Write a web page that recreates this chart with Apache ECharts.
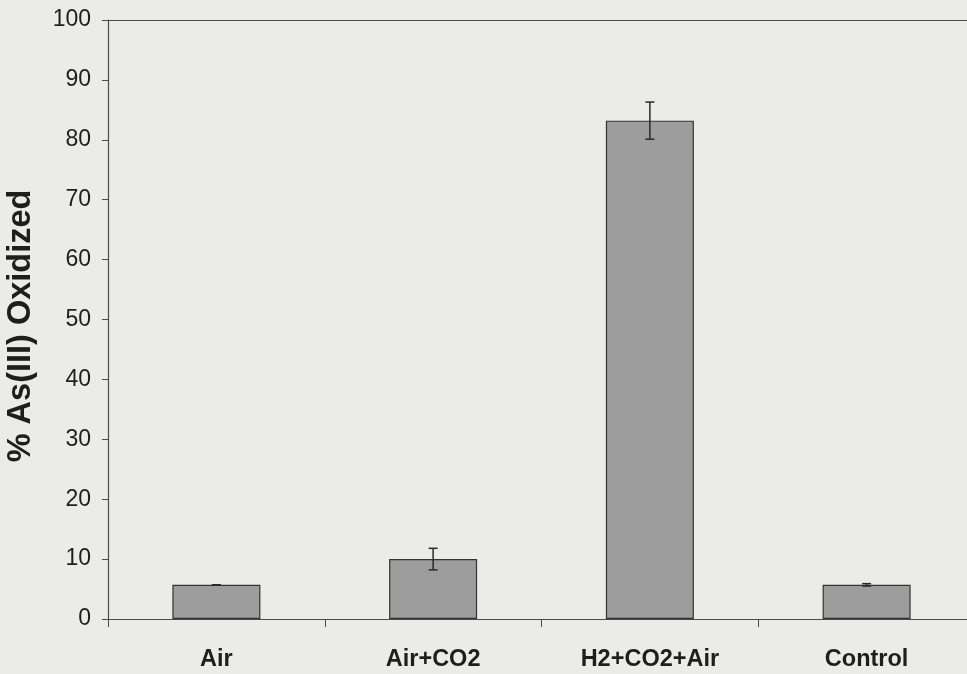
<!DOCTYPE html>
<html>
<head>
<meta charset="utf-8">
<script src="https://cdn.jsdelivr.net/npm/echarts@6/dist/echarts.min.js"></script>
<style>
  html, body { margin: 0; padding: 0; background: #ebebea; }
  #chart { width: 967px; height: 674px; }
</style>
</head>
<body>
<div id="chart"></div>
<script>
// Percentage of As(III) oxidized under each incubation condition
const categories = ['Air', 'Air+CO2', 'H2+CO2+Air', 'Control'];
const oxidized = [5.7, 10.0, 83.2, 5.7];
const errLow = [5.7, 8.2, 80.1, 5.5];
const errHigh = [5.7, 11.8, 86.3, 5.9];
const yTicks = [0, 10, 20, 30, 40, 50, 60, 70, 80, 90, 100];

const font = 'Liberation Sans, Arial, sans-serif';
const ink = '#1e1e1e';
const axisGray = '#4a4a4a';

const chart = echarts.init(document.getElementById('chart'));

// whiskers: vertical stroke with short horizontal caps
function renderErr(params, api) {
  const i = api.value(0);
  const lo = api.coord([i, api.value(1)]);
  const hi = api.coord([i, api.value(2)]);
  const cap = 4.5;
  const style = { stroke: '#2a2a2a', lineWidth: 1.5 };
  return {
    type: 'group',
    children: [
      { type: 'line', shape: { x1: hi[0], y1: hi[1], x2: lo[0], y2: lo[1] }, style },
      { type: 'line', shape: { x1: hi[0] - cap, y1: hi[1], x2: hi[0] + cap, y2: hi[1] }, style },
      { type: 'line', shape: { x1: lo[0] - cap, y1: lo[1], x2: lo[0] + cap, y2: lo[1] }, style }
    ]
  };
}

chart.setOption({
  backgroundColor: '#ebebea',
  animation: false,
  // the plot area runs a little past the right edge of the canvas
  grid: {
    left: 108, top: 20, right: -8, bottom: 55,
    containLabel: false,
    outerBoundsMode: 'none'
  },
  xAxis: [
    {
      type: 'category',
      data: categories,
      position: 'bottom',
      axisLine: { show: true, lineStyle: { color: axisGray, width: 1.2 } },
      axisTick: { show: true, alignWithLabel: false, length: 8, lineStyle: { color: axisGray } },
      axisLabel: {
        margin: 29,
        color: ink,
        fontFamily: font,
        fontWeight: 'bold',
        fontSize: 23.5
      }
    },
    {
      type: 'category',
      data: categories,
      position: 'top',
      axisLine: { show: true, lineStyle: { color: axisGray, width: 1.2 } },
      axisTick: { show: false },
      axisLabel: { show: false }
    }
  ],
  yAxis: {
    type: 'value',
    min: yTicks[0],
    max: yTicks[yTicks.length - 1],
    interval: yTicks[1] - yTicks[0],
    name: '% As(III) Oxidized',
    nameLocation: 'middle',
    nameGap: 70,
    nameTextStyle: {
      color: ink,
      fontFamily: font,
      fontWeight: 'bold',
      fontSize: 32.5,
      padding: [0, 0, 0, -13]
    },
    axisLine: { show: true, lineStyle: { color: axisGray, width: 1.2 } },
    axisTick: { show: true, length: 6, lineStyle: { color: axisGray } },
    splitLine: { show: false },
    axisLabel: {
      margin: 17,
      color: ink,
      fontFamily: font,
      fontSize: 23
    }
  },
  series: [
    {
      type: 'bar',
      data: oxidized,
      barWidth: 88,
      itemStyle: { color: '#9d9d9d', borderColor: '#333333', borderWidth: 1.2 }
    },
    {
      type: 'custom',
      renderItem: renderErr,
      encode: { x: 0, y: [1, 2] },
      data: categories.map((c, i) => [i, errLow[i], errHigh[i]]),
      z: 5
    }
  ]
});
</script>
</body>
</html>
